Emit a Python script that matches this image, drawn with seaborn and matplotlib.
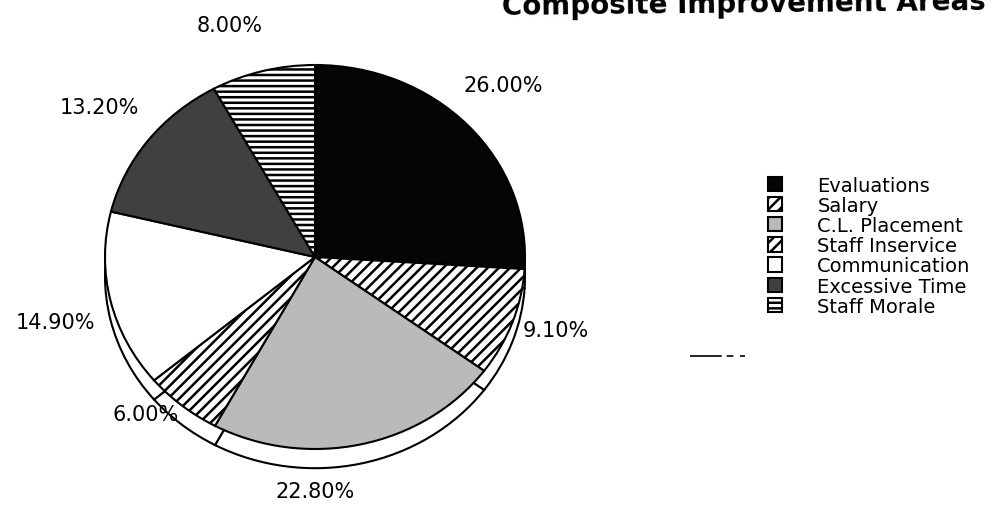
import numpy as np
import pandas as pd
import seaborn as sns
import matplotlib.pyplot as plt
from matplotlib.lines import Line2D

# data
categories = ["Evaluations", "Salary", "C.L. Placement", "Staff Inservice",
              "Communication", "Excessive Time", "Staff Morale"]
shares = [26.0, 9.1, 22.8, 6.0, 14.9, 13.2, 8.0]
title = "Composite Improvement Areas"

df = pd.DataFrame({"category": categories, "share": shares})
df["label"] = df["share"].map(lambda v: f"{v:.2f}%")

sns.set_theme(style="white")
plt.rcParams["font.family"] = ["DejaVu Sans"]
plt.rcParams["hatch.linewidth"] = 1.8

fills = ["#050505", "white", "#bababa", "white", "white", "#404040", "white"]
hatches = ["", "///", "", "///", "", "", "---"]

fig = plt.figure(figsize=(10.05, 5.06), dpi=100)
ax = fig.add_axes([75 / 1005, 8 / 506, 480 / 1005, 480 / 506])

# rim of the tilted pie (same pie shifted down)
ax.pie(df["share"], startangle=90, counterclock=False, center=(0, -0.1),
       colors=["white"] * len(df),
       wedgeprops=dict(edgecolor="black", linewidth=1.5))
wedges, _ = ax.pie(df["share"], startangle=90, counterclock=False,
                   colors=fills, hatch=hatches,
                   wedgeprops=dict(edgecolor="black", linewidth=1.5))
ax.set_aspect("auto")
ax.set_xlim(-240 / 210, 240 / 210)
ax.set_ylim(-240 / 192, 240 / 192)
ax.axis("off")

# percentage labels placed as on the original
label_pos = [(0.895, 0.895), (1.148, -0.379), (0.0, -1.221), (-0.805, -0.816),
             (-1.238, -0.337), (-1.029, 0.779), (-0.405, 1.21)]
for (lx, ly), txt in zip(label_pos, df["label"]):
    ax.text(lx, ly, txt, ha="center", va="center", fontsize=15, color="black")

# title is cropped at the top edge in the scan
fig.text(502 / 1005, (506 - 15) / 506, title, ha="left", va="baseline",
         fontsize=20, fontweight="bold", rotation=0.6, color="black")

fig.legend(handles=wedges, labels=list(df["category"]), loc="upper left",
           bbox_to_anchor=(758 / 1005, (506 - 167) / 506), frameon=False,
           fontsize=14, handlelength=0.75, handleheight=0.75,
           handletextpad=1.8, labelspacing=0.06, borderpad=0,
           labelcolor="black")

fig.add_artist(Line2D([690 / 1005, 750 / 1005], [(506 - 357) / 506] * 2,
                      color="black", linewidth=1.2, dashes=(19, 3, 4, 4, 3, 40)))

fig.savefig("out.png", dpi=100)
